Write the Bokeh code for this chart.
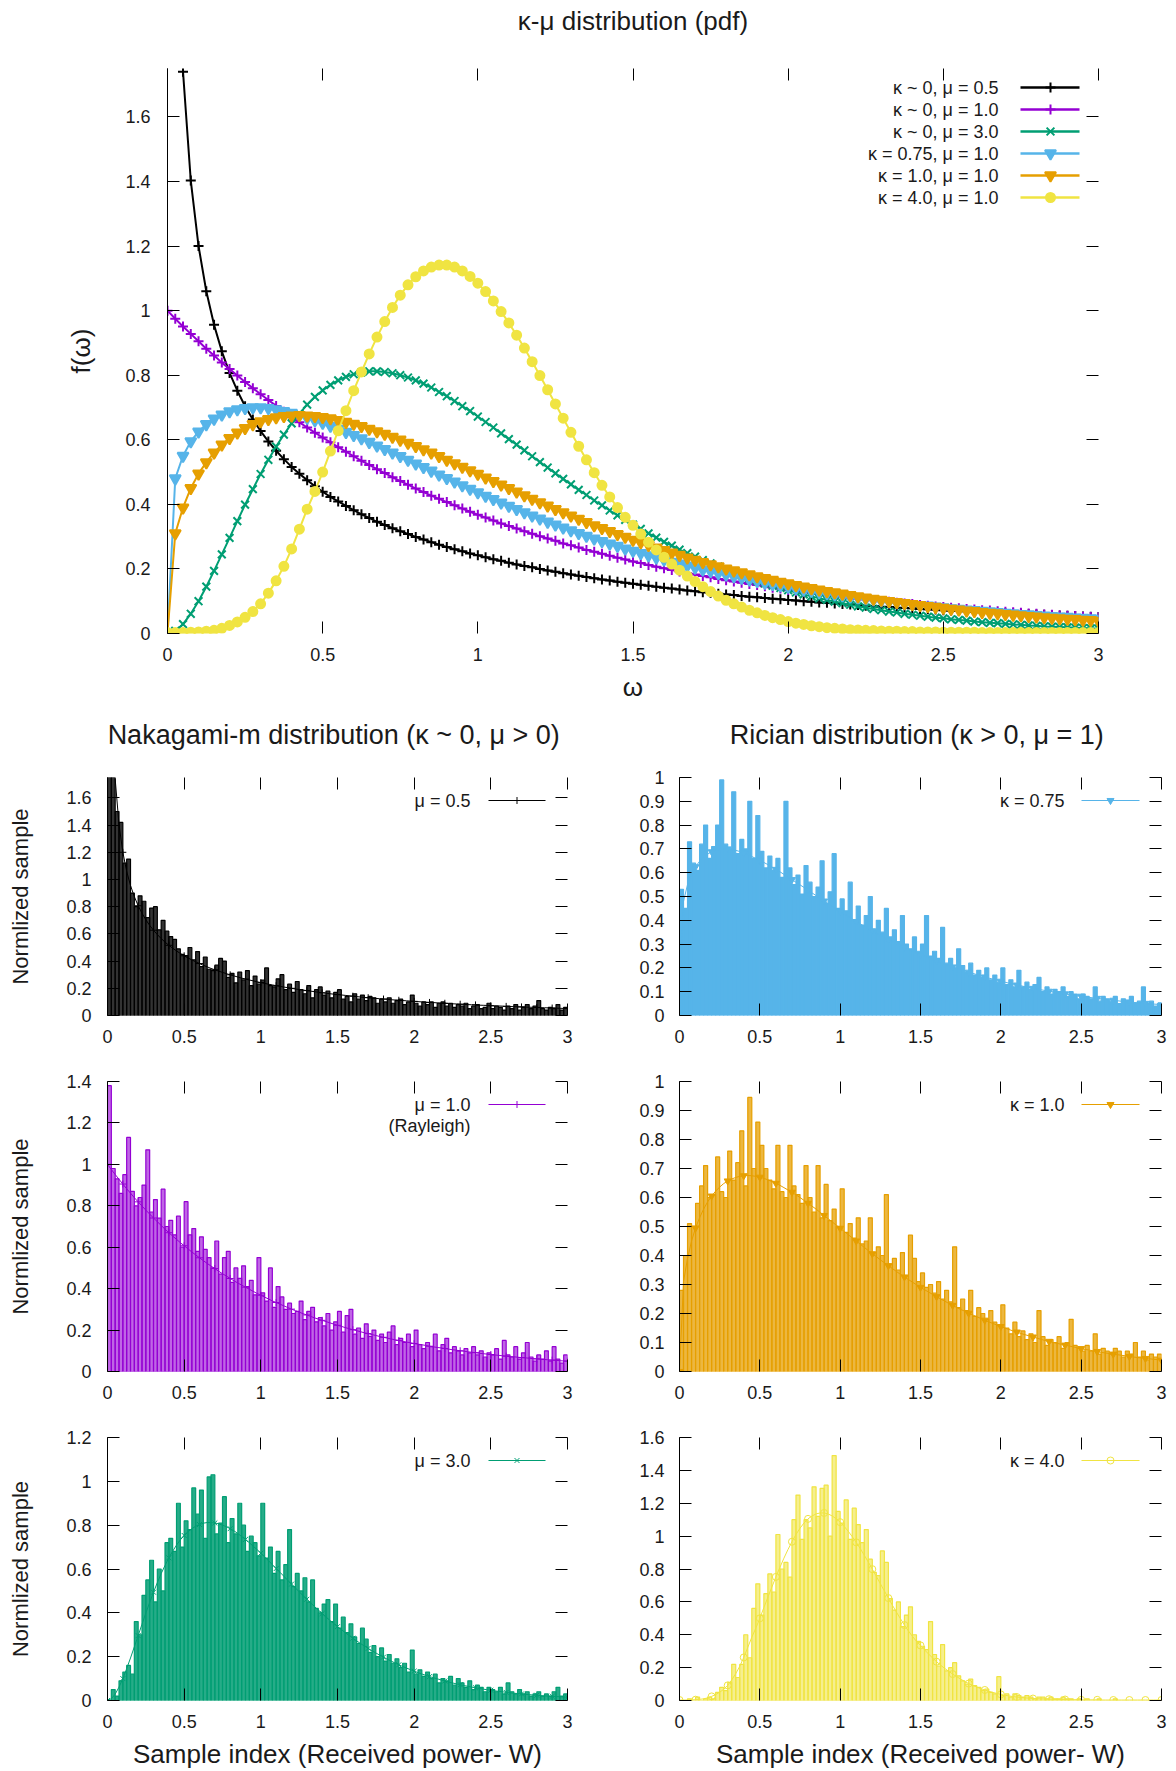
import numpy as np
from bokeh.plotting import figure
from bokeh.models import (Range1d, LinearAxis, FixedTicker, Label,
                          NumeralTickFormatter, CustomJSTickFormatter)
from bokeh.layouts import column, row
from bokeh.embed import file_html
from bokeh.resources import INLINE

FONT = "Liberation Sans"
C_BLACK, C_PURPLE, C_GREEN = "#000000", "#9400d3", "#009e73"
C_CYAN, C_ORANGE, C_YELLOW = "#56b4e9", "#e69f00", "#f0e442"

# ---------------- data ----------------
omega = [round(0.025 * i, 3) for i in range(121)]          # sample grid 0..3
bins = [round(0.0125 + 0.025 * i, 4) for i in range(120)]  # histogram bin centres

pdf_k0_m05 = [None, None,
    1.740, 1.403, 1.200, 1.060, 0.956, 0.874, 0.807, 0.752, 0.704, 0.663,
    0.627, 0.595, 0.566, 0.540, 0.516, 0.495, 0.475, 0.456, 0.439, 0.423,
    0.409, 0.395, 0.382, 0.369, 0.358, 0.346, 0.336, 0.326, 0.317, 0.308,
    0.299, 0.291, 0.283, 0.275, 0.268, 0.261, 0.255, 0.248, 0.242, 0.236,
    0.230, 0.225, 0.219, 0.214, 0.209, 0.205, 0.200, 0.195, 0.191, 0.187,
    0.183, 0.179, 0.175, 0.171, 0.167, 0.164, 0.160, 0.157, 0.154, 0.151,
    0.148, 0.145, 0.142, 0.139, 0.136, 0.133, 0.131, 0.128, 0.126, 0.123,
    0.121, 0.119, 0.116, 0.114, 0.112, 0.110, 0.108, 0.106, 0.104, 0.102,
    0.100, 0.098, 0.096, 0.095, 0.093, 0.091, 0.090, 0.088, 0.086, 0.085,
    0.083, 0.082, 0.080, 0.079, 0.078, 0.076, 0.075, 0.074, 0.072, 0.071,
    0.070, 0.069, 0.067, 0.066, 0.065, 0.064, 0.063, 0.062, 0.061, 0.060,
    0.059, 0.058, 0.057, 0.056, 0.055, 0.054, 0.053, 0.052, 0.051]

pdf_k0_m10 = [
    1.000, 0.975, 0.951, 0.928, 0.905, 0.882, 0.861, 0.839, 0.819, 0.799,
    0.779, 0.760, 0.741, 0.723, 0.705, 0.687, 0.670, 0.654, 0.638, 0.622,
    0.607, 0.592, 0.577, 0.563, 0.549, 0.535, 0.522, 0.509, 0.497, 0.484,
    0.472, 0.461, 0.449, 0.438, 0.427, 0.417, 0.407, 0.397, 0.387, 0.377,
    0.368, 0.359, 0.350, 0.341, 0.333, 0.325, 0.317, 0.309, 0.301, 0.294,
    0.287, 0.279, 0.273, 0.266, 0.259, 0.253, 0.247, 0.241, 0.235, 0.229,
    0.223, 0.218, 0.212, 0.207, 0.202, 0.197, 0.192, 0.187, 0.183, 0.178,
    0.174, 0.169, 0.165, 0.161, 0.157, 0.153, 0.150, 0.146, 0.142, 0.139,
    0.135, 0.132, 0.129, 0.126, 0.122, 0.119, 0.116, 0.114, 0.111, 0.108,
    0.105, 0.103, 0.100, 0.098, 0.095, 0.093, 0.091, 0.088, 0.086, 0.084,
    0.082, 0.080, 0.078, 0.076, 0.074, 0.072, 0.071, 0.069, 0.067, 0.066,
    0.064, 0.062, 0.061, 0.059, 0.058, 0.056, 0.055, 0.054, 0.052, 0.051,
    0.050]

pdf_k0_m30 = [
    0.000, 0.008, 0.029, 0.061, 0.100, 0.145, 0.194, 0.245, 0.296, 0.348,
    0.399, 0.447, 0.494, 0.538, 0.579, 0.616, 0.651, 0.681, 0.709, 0.733,
    0.753, 0.770, 0.784, 0.795, 0.803, 0.809, 0.812, 0.812, 0.810, 0.806,
    0.800, 0.793, 0.784, 0.774, 0.762, 0.748, 0.735, 0.720, 0.704, 0.689,
    0.672, 0.655, 0.638, 0.620, 0.602, 0.585, 0.567, 0.549, 0.531, 0.514,
    0.496, 0.479, 0.462, 0.445, 0.429, 0.412, 0.397, 0.381, 0.366, 0.352,
    0.337, 0.324, 0.310, 0.297, 0.284, 0.272, 0.260, 0.249, 0.238, 0.227,
    0.217, 0.207, 0.198, 0.188, 0.180, 0.171, 0.163, 0.155, 0.148, 0.141,
    0.134, 0.127, 0.121, 0.115, 0.109, 0.104, 0.099, 0.094, 0.089, 0.084,
    0.080, 0.076, 0.072, 0.068, 0.065, 0.061, 0.058, 0.055, 0.052, 0.049,
    0.047, 0.044, 0.042, 0.040, 0.037, 0.035, 0.033, 0.032, 0.030, 0.028,
    0.027, 0.025, 0.024, 0.022, 0.021, 0.020, 0.019, 0.018, 0.017, 0.016,
    0.015]

pdf_k075_m10 = [
    0.000, 0.480, 0.550, 0.595, 0.625, 0.648, 0.665, 0.678, 0.688, 0.694,
    0.698, 0.700, 0.700, 0.698, 0.694, 0.689, 0.683, 0.676, 0.668, 0.660,
    0.652, 0.643, 0.634, 0.624, 0.614, 0.604, 0.593, 0.582, 0.571, 0.560,
    0.549, 0.538, 0.526, 0.515, 0.504, 0.492, 0.481, 0.470, 0.459, 0.448,
    0.437, 0.426, 0.416, 0.405, 0.395, 0.385, 0.375, 0.365, 0.356, 0.346,
    0.337, 0.328, 0.319, 0.311, 0.302, 0.294, 0.286, 0.278, 0.271, 0.263,
    0.256, 0.249, 0.242, 0.235, 0.229, 0.222, 0.216, 0.210, 0.204, 0.198,
    0.193, 0.187, 0.182, 0.177, 0.172, 0.167, 0.162, 0.157, 0.153, 0.149,
    0.144, 0.140, 0.136, 0.132, 0.128, 0.125, 0.121, 0.118, 0.114, 0.111,
    0.108, 0.105, 0.102, 0.099, 0.096, 0.093, 0.091, 0.088, 0.086, 0.083,
    0.081, 0.078, 0.076, 0.074, 0.072, 0.070, 0.068, 0.066, 0.064, 0.062,
    0.060, 0.059, 0.057, 0.055, 0.054, 0.052, 0.051, 0.049, 0.048, 0.047,
    0.045]

pdf_k10_m10 = [
    0.000, 0.310, 0.390, 0.450, 0.495, 0.530, 0.560, 0.585, 0.605, 0.622,
    0.636, 0.648, 0.657, 0.664, 0.669, 0.673, 0.675, 0.676, 0.675, 0.673,
    0.670, 0.666, 0.661, 0.655, 0.649, 0.642, 0.634, 0.626, 0.618, 0.609,
    0.600, 0.590, 0.580, 0.570, 0.560, 0.549, 0.538, 0.527, 0.516, 0.505,
    0.494, 0.483, 0.472, 0.461, 0.450, 0.439, 0.428, 0.417, 0.406, 0.396,
    0.385, 0.375, 0.365, 0.355, 0.345, 0.335, 0.326, 0.317, 0.308, 0.299,
    0.290, 0.282, 0.274, 0.266, 0.258, 0.250, 0.243, 0.235, 0.228, 0.221,
    0.214, 0.208, 0.201, 0.195, 0.189, 0.183, 0.177, 0.171, 0.166, 0.160,
    0.155, 0.150, 0.145, 0.140, 0.136, 0.131, 0.127, 0.123, 0.119, 0.115,
    0.111, 0.107, 0.104, 0.100, 0.097, 0.094, 0.091, 0.088, 0.085, 0.082,
    0.079, 0.076, 0.074, 0.071, 0.069, 0.066, 0.064, 0.062, 0.060, 0.058,
    0.056, 0.054, 0.052, 0.050, 0.048, 0.047, 0.045, 0.044, 0.042, 0.041,
    0.039]

pdf_k40_m10 = [
    0.003, 0.003, 0.003, 0.004, 0.005, 0.007, 0.010, 0.016, 0.025, 0.036,
    0.050, 0.068, 0.092, 0.125, 0.163, 0.208, 0.262, 0.323, 0.385, 0.440,
    0.500, 0.565, 0.628, 0.690, 0.752, 0.810, 0.866, 0.918, 0.966, 1.010,
    1.048, 1.080, 1.105, 1.123, 1.135, 1.141, 1.141, 1.135, 1.123, 1.106,
    1.085, 1.059, 1.030, 0.997, 0.962, 0.924, 0.884, 0.842, 0.799, 0.755,
    0.711, 0.667, 0.623, 0.580, 0.538, 0.498, 0.459, 0.423, 0.390, 0.360,
    0.335, 0.308, 0.283, 0.259, 0.236, 0.215, 0.196, 0.178, 0.161, 0.145,
    0.130, 0.116, 0.103, 0.092, 0.082, 0.072, 0.064, 0.056, 0.049, 0.043,
    0.037, 0.032, 0.028, 0.024, 0.021, 0.018, 0.016, 0.014, 0.012, 0.011,
    0.010, 0.009, 0.008, 0.007, 0.007, 0.006, 0.006, 0.005, 0.005, 0.005,
    0.004, 0.004, 0.004, 0.004, 0.004, 0.003, 0.003, 0.003, 0.003, 0.003,
    0.003, 0.003, 0.003, 0.003, 0.003, 0.003, 0.003, 0.003, 0.003, 0.003,
    0.003]

hist_m05 = [
    3.50, 2.10, 1.50, 1.42, 1.12, 1.15, 0.90, 0.80, 0.88, 0.84,
    0.72, 0.79, 0.80, 0.63, 0.70, 0.62, 0.58, 0.56, 0.49, 0.45,
    0.44, 0.50, 0.41, 0.47, 0.36, 0.43, 0.34, 0.33, 0.37, 0.42,
    0.40, 0.28, 0.31, 0.24, 0.32, 0.26, 0.33, 0.22, 0.29, 0.23,
    0.26, 0.35, 0.22, 0.21, 0.27, 0.30, 0.19, 0.23, 0.17, 0.25,
    0.19, 0.16, 0.22, 0.13, 0.19, 0.21, 0.15, 0.18, 0.13, 0.17,
    0.19, 0.12, 0.14, 0.10, 0.16, 0.12, 0.15, 0.11, 0.14, 0.13,
    0.09, 0.12, 0.10, 0.13, 0.09, 0.11, 0.12, 0.08, 0.10, 0.15,
    0.09, 0.07, 0.10, 0.08, 0.10, 0.06, 0.09, 0.10, 0.07, 0.09,
    0.06, 0.08, 0.07, 0.09, 0.05, 0.07, 0.08, 0.05, 0.06, 0.09,
    0.05, 0.07, 0.06, 0.04, 0.07, 0.05, 0.08, 0.04, 0.06, 0.08,
    0.05, 0.07, 0.11, 0.05, 0.04, 0.06, 0.05, 0.08, 0.04, 0.06]

hist_m10 = [
    1.38, 0.98, 0.93, 0.86, 0.95, 1.13, 0.87, 0.80, 0.84, 0.90,
    1.07, 0.77, 0.83, 0.74, 0.88, 0.70, 0.73, 0.66, 0.75, 0.60,
    0.82, 0.66, 0.69, 0.58, 0.65, 0.59, 0.55, 0.50, 0.63, 0.47,
    0.55, 0.58, 0.43, 0.50, 0.45, 0.51, 0.41, 0.44, 0.37, 0.55,
    0.38, 0.34, 0.50, 0.31, 0.41, 0.36, 0.30, 0.33, 0.28, 0.29,
    0.34, 0.25, 0.29, 0.31, 0.24, 0.26, 0.22, 0.28, 0.20, 0.24,
    0.29, 0.19, 0.27, 0.30, 0.18, 0.21, 0.16, 0.23, 0.17, 0.20,
    0.15, 0.18, 0.14, 0.19, 0.22, 0.13, 0.16, 0.14, 0.18, 0.12,
    0.20, 0.13, 0.11, 0.14, 0.12, 0.18, 0.10, 0.13, 0.16, 0.09,
    0.12, 0.10, 0.08, 0.11, 0.09, 0.12, 0.08, 0.10, 0.07, 0.09,
    0.08, 0.11, 0.06, 0.15, 0.08, 0.07, 0.12, 0.06, 0.09, 0.14,
    0.07, 0.05, 0.08, 0.06, 0.10, 0.05, 0.12, 0.06, 0.04, 0.08]

hist_m30 = [
    0.00, 0.05, 0.02, 0.09, 0.13, 0.16, 0.12, 0.36, 0.30, 0.48,
    0.55, 0.64, 0.45, 0.60, 0.50, 0.72, 0.74, 0.68, 0.90, 0.70,
    0.82, 0.78, 0.97, 0.85, 0.96, 0.74, 1.02, 1.03, 0.76, 0.81,
    0.93, 0.72, 0.83, 0.76, 0.90, 0.80, 0.68, 0.75, 0.72, 0.66,
    0.90, 0.65, 0.70, 0.58, 0.68, 0.55, 0.62, 0.78, 0.52, 0.58,
    0.50, 0.56, 0.45, 0.55, 0.42, 0.40, 0.44, 0.46, 0.36, 0.44,
    0.33, 0.38, 0.31, 0.35, 0.29, 0.26, 0.33, 0.28, 0.22, 0.25,
    0.20, 0.24, 0.18, 0.21, 0.17, 0.19, 0.15, 0.17, 0.13, 0.23,
    0.12, 0.14, 0.11, 0.13, 0.10, 0.12, 0.08, 0.10, 0.09, 0.11,
    0.07, 0.10, 0.08, 0.06, 0.09, 0.05, 0.07, 0.06, 0.04, 0.06,
    0.05, 0.04, 0.06, 0.03, 0.08, 0.04, 0.03, 0.05, 0.03, 0.04,
    0.02, 0.03, 0.04, 0.02, 0.03, 0.02, 0.04, 0.06, 0.02, 0.03]

hist_k075 = [
    0.53, 0.45, 0.73, 0.64, 0.61, 0.72, 0.80, 0.66, 0.71, 0.80,
    0.99, 0.72, 0.70, 0.94, 0.68, 0.74, 0.70, 0.90, 0.66, 0.84,
    0.69, 0.62, 0.67, 0.61, 0.66, 0.58, 0.90, 0.62, 0.55, 0.59,
    0.51, 0.63, 0.56, 0.50, 0.54, 0.65, 0.47, 0.52, 0.68, 0.45,
    0.49, 0.44, 0.56, 0.40, 0.46, 0.38, 0.42, 0.50, 0.36, 0.40,
    0.35, 0.45, 0.33, 0.36, 0.31, 0.42, 0.30, 0.28, 0.33, 0.27,
    0.30, 0.42, 0.25, 0.27, 0.24, 0.37, 0.22, 0.24, 0.20, 0.28,
    0.21, 0.18, 0.22, 0.17, 0.19, 0.16, 0.20, 0.15, 0.17, 0.14,
    0.20, 0.13, 0.15, 0.12, 0.19, 0.12, 0.14, 0.11, 0.13, 0.16,
    0.10, 0.12, 0.09, 0.11, 0.10, 0.12, 0.08, 0.10, 0.09, 0.07,
    0.09, 0.08, 0.07, 0.12, 0.06, 0.08, 0.07, 0.06, 0.08, 0.05,
    0.07, 0.06, 0.08, 0.05, 0.06, 0.12, 0.05, 0.06, 0.04, 0.05]

hist_k10 = [
    0.28, 0.40, 0.51, 0.50, 0.58, 0.64, 0.71, 0.60, 0.61, 0.74,
    0.62, 0.60, 0.76, 0.66, 0.72, 0.83, 0.64, 0.945, 0.70, 0.86,
    0.78, 0.70, 0.66, 0.63, 0.78, 0.62, 0.60, 0.78, 0.64, 0.61,
    0.58, 0.71, 0.60, 0.55, 0.71, 0.53, 0.645, 0.52, 0.56, 0.50,
    0.63, 0.48, 0.51, 0.46, 0.53, 0.44, 0.45, 0.53, 0.41, 0.43,
    0.40, 0.61, 0.37, 0.39, 0.35, 0.41, 0.33, 0.47, 0.39, 0.31,
    0.34, 0.29, 0.30, 0.27, 0.31, 0.25, 0.28, 0.24, 0.43, 0.22,
    0.25, 0.21, 0.28, 0.19, 0.22, 0.20, 0.18, 0.21, 0.17, 0.16,
    0.23, 0.15, 0.13, 0.17, 0.12, 0.14, 0.11, 0.13, 0.10, 0.21,
    0.12, 0.09, 0.11, 0.10, 0.12, 0.08, 0.10, 0.18, 0.09, 0.08,
    0.07, 0.09, 0.07, 0.13, 0.06, 0.08, 0.07, 0.06, 0.08, 0.07,
    0.05, 0.07, 0.06, 0.10, 0.05, 0.07, 0.04, 0.06, 0.05, 0.06]

hist_k40 = [
    0.00, 0.00, 0.01, 0.00, 0.02, 0.00, 0.01, 0.02, 0.01, 0.05,
    0.08, 0.06, 0.11, 0.22, 0.14, 0.22, 0.40, 0.26, 0.56, 0.71,
    0.52, 0.65, 0.77, 0.66, 1.01, 0.80, 0.84, 0.75, 1.10, 1.25,
    0.98, 1.10, 1.05, 1.30, 1.12, 1.29, 1.31, 1.00, 1.49, 1.15,
    1.08, 1.22, 0.98, 1.17, 1.07, 0.96, 1.04, 0.86, 0.78, 0.76,
    0.91, 0.84, 0.62, 0.55, 0.60, 0.45, 0.52, 0.57, 0.40, 0.36,
    0.33, 0.31, 0.48, 0.28, 0.21, 0.34, 0.18, 0.20, 0.23, 0.15,
    0.12, 0.10, 0.13, 0.09, 0.08, 0.06, 0.07, 0.05, 0.04, 0.145,
    0.03, 0.04, 0.02, 0.04, 0.03, 0.02, 0.03, 0.02, 0.01, 0.02,
    0.02, 0.01, 0.02, 0.01, 0.01, 0.02, 0.01, 0.01, 0.00, 0.01,
    0.00, 0.01, 0.00, 0.00, 0.01, 0.00, 0.00, 0.00, 0.01, 0.00,
    0.00, 0.00, 0.00, 0.00, 0.00, 0.00, 0.00, 0.00, 0.00, 0.00]

top_legend = ["κ ~ 0,  μ = 0.5", "κ ~ 0,  μ = 1.0", "κ ~ 0,  μ = 3.0",
              "κ = 0.75,  μ = 1.0", "κ = 1.0,  μ = 1.0", "κ = 4.0,  μ = 1.0"]
x_ticks = [0, 0.5, 1, 1.5, 2, 2.5, 3]


def arr(v):
    return np.array([np.nan if a is None else a for a in v], dtype=float)


OM = np.array(omega)
TXT = "#1a1a1a"
TICK_FS = "18px"


def axes(p, yticks, lab_std_x, lab_std_y, xlabel=None, xl_size="26px", xl_std=8,
         ylabel=None, yl_size="22px", yl_std=30, title=None, title_size="27px", title_std=28):
    fmt = NumeralTickFormatter(format="0.[0]")
    common = dict(major_tick_in=12, major_tick_out=0, minor_tick_in=0, minor_tick_out=0,
                  major_tick_line_color="black", major_tick_line_width=1,
                  major_label_text_font=FONT, major_label_text_color=TXT)
    bx = LinearAxis(ticker=FixedTicker(ticks=x_ticks), formatter=fmt, axis_line_color=None,
                    major_label_standoff=lab_std_x, major_label_text_font_size=TICK_FS, **common)
    if xlabel:
        bx.axis_label = xlabel
        bx.axis_label_text_font = FONT
        bx.axis_label_text_font_size = xl_size
        bx.axis_label_text_font_style = "normal"
        bx.axis_label_text_color = TXT
        bx.axis_label_standoff = xl_std
    ly = LinearAxis(ticker=FixedTicker(ticks=yticks), formatter=fmt, axis_line_color="black",
                    axis_line_width=1, major_label_standoff=lab_std_y,
                    major_label_text_font_size=TICK_FS, **common)
    if ylabel:
        ly.axis_label = ylabel
        ly.axis_label_text_font = FONT
        ly.axis_label_text_font_size = yl_size
        ly.axis_label_text_font_style = "normal"
        ly.axis_label_text_color = TXT
        ly.axis_label_standoff = yl_std
    tx_ = LinearAxis(ticker=FixedTicker(ticks=x_ticks),
                     formatter=CustomJSTickFormatter(code="return ''"), axis_line_color=None,
                     major_label_standoff=0, major_label_text_font_size="0px", **common)
    if title:
        tx_.axis_label = title
        tx_.axis_label_text_font = FONT
        tx_.axis_label_text_font_size = title_size
        tx_.axis_label_text_font_style = "normal"
        tx_.axis_label_text_color = TXT
        tx_.axis_label_standoff = title_std
    ry = LinearAxis(ticker=FixedTicker(ticks=yticks),
                    formatter=CustomJSTickFormatter(code="return ''"), axis_line_color=None,
                    major_label_standoff=0, major_label_text_font_size="0px", **common)
    p.add_layout(bx, "below")
    p.add_layout(ly, "left")
    p.add_layout(tx_, "above")
    p.add_layout(ry, "right")


def base_fig(fw, fh, bl, br, bt, bb, ymax):
    p = figure(frame_width=fw, frame_height=fh, min_border_left=bl, min_border_right=br,
               min_border_top=bt, min_border_bottom=bb, x_range=Range1d(0, 3),
               y_range=Range1d(0, ymax), x_axis_location=None, y_axis_location=None,
               output_backend="svg", toolbar_location=None, tools="", title=None)
    p.grid.visible = False
    p.outline_line_color = None
    p.background_fill_color = "white"
    p.border_fill_color = "white"
    return p


# ---------------- top chart ----------------
T_L, T_FW, T_R, T_T, T_FH, T_B, T_YMAX = 167, 931, 78, 68, 565, 72, 1.75
top = base_fig(T_FW, T_FH, T_L, T_R, T_T, T_B, T_YMAX)
axes(top, [0, 0.2, 0.4, 0.6, 0.8, 1, 1.2, 1.4, 1.6], 14, 17,
     xlabel="ω", xl_size="26px", xl_std=8, ylabel="f(ω)", yl_size="26px", yl_std=26,
     title="κ-μ distribution (pdf)", title_size="26px", title_std=33)

series = [
    (pdf_k0_m05, C_BLACK, "cross", 10, C_BLACK),
    (pdf_k0_m10, C_PURPLE, "cross", 10, C_PURPLE),
    (pdf_k0_m30, C_GREEN, "x", 11, C_GREEN),
    (pdf_k075_m10, C_CYAN, "inverted_triangle", 11, C_CYAN),
    (pdf_k10_m10, C_ORANGE, "inverted_triangle", 11, C_ORANGE),
    (pdf_k40_m10, C_YELLOW, "circle", 9, C_YELLOW),
]


def tx(px, left, fw):
    return (px - left) / fw * 3.0


def ty(py, top_px, fh, ymax):
    return (top_px + fh - py) / fh * ymax


for i, (vals, col, mk, ms, fc) in enumerate(series):
    y = arr(vals)
    top.line(OM, y, line_color=col, line_width=2)
    top.scatter(OM, y, marker=mk, size=ms, line_color=col, fill_color=fc, line_width=2)
    ly_ = ty(87 + 22 * i, T_T, T_FH, T_YMAX)
    top.add_layout(Label(x=tx(1003, T_L, T_FW), y=ly_, text=top_legend[i], text_align="right",
                         text_baseline="middle", text_font=FONT, text_font_size="18px",
                         text_color=TXT))
    top.line([tx(1020, T_L, T_FW), tx(1079, T_L, T_FW)], [ly_, ly_], line_color=col, line_width=2.5)
    top.scatter([tx(1050, T_L, T_FW)], [ly_], marker=mk, size=ms, line_color=col,
                fill_color=fc, line_width=2)

# ---------------- bottom panels ----------------
ROWS = [dict(t=72, fh=238, b=35, top_px=777), dict(t=31, fh=290, b=39, top_px=1081),
        dict(t=27, fh=263, b=71, top_px=1437)]
COLS = [dict(l=107, fw=460, r=23), dict(l=89, fw=482, r=15)]
COL_LEFT_PX = [107, 679]


def panel(ci, ri, ymax, yticks, hist, pdf, color, fill, falpha, marker, mfill, legend,
          legend_px, title=None, xlabel=None, ylabel=None):
    c, g = COLS[ci], ROWS[ri]
    p = base_fig(c["fw"], g["fh"], c["l"], c["r"], g["t"], g["b"], ymax)
    axes(p, yticks, 14, 15 if ci else 16, xlabel=xlabel, ylabel=ylabel,
         title=title, title_size="27px", title_std=28)
    p.vbar(x=bins, top=hist, width=0.025, fill_color=fill, fill_alpha=falpha,
           line_color=color, line_width=1.2)
    y = arr(pdf)
    p.line(OM, y, line_color=color, line_width=1)
    p.scatter(OM[::4], y[::4], marker=marker, size=7, line_color=color, fill_color=mfill,
              line_width=1)
    left = COL_LEFT_PX[ci]
    txt_r, l0, l1 = legend_px
    for j, t in enumerate(legend):
        yy = ty(g["top_px"] + (23 + 21 * j), g["top_px"], g["fh"], ymax)
        p.add_layout(Label(x=tx(txt_r, left, c["fw"]), y=yy, text=t, text_align="right",
                           text_baseline="middle", text_font=FONT, text_font_size="18px",
                           text_color=TXT))
    yy = ty(g["top_px"] + 23, g["top_px"], g["fh"], ymax)
    p.line([tx(l0, left, c["fw"]), tx(l1, left, c["fw"])], [yy, yy], line_color=color,
           line_width=1.2)
    p.scatter([tx((l0 + l1) / 2, left, c["fw"])], [yy], marker=marker, size=7,
              line_color=color, fill_color=mfill, line_width=1)
    return p


LEFT_LEG = (470, 488, 545)
RIGHT_LEG = (1064, 1081, 1139)
XL = "Sample index (Received power- W)"
YL = "Normlized sample"

p1 = panel(0, 0, 1.75, [0, 0.2, 0.4, 0.6, 0.8, 1, 1.2, 1.4, 1.6], hist_m05, pdf_k0_m05,
           C_BLACK, "#000000", 0.8, "cross", C_BLACK, ["μ = 0.5"], LEFT_LEG,
           title="Nakagami-m distribution (κ ~ 0,  μ > 0)", ylabel=YL)
p2 = panel(1, 0, 1.0, [0, 0.1, 0.2, 0.3, 0.4, 0.5, 0.6, 0.7, 0.8, 0.9, 1], hist_k075,
           pdf_k075_m10, C_CYAN, C_CYAN, 1.0, "inverted_triangle", C_CYAN, ["κ = 0.75"],
           RIGHT_LEG, title="Rician distribution (κ > 0,  μ = 1)")
p3 = panel(0, 1, 1.4, [0, 0.2, 0.4, 0.6, 0.8, 1, 1.2, 1.4], hist_m10, pdf_k0_m10,
           C_PURPLE, C_PURPLE, 0.6, "cross", C_PURPLE, ["μ = 1.0", "(Rayleigh)"], LEFT_LEG,
           ylabel=YL)
p4 = panel(1, 1, 1.0, [0, 0.1, 0.2, 0.3, 0.4, 0.5, 0.6, 0.7, 0.8, 0.9, 1], hist_k10,
           pdf_k10_m10, C_ORANGE, C_ORANGE, 0.75, "inverted_triangle", C_ORANGE, ["κ = 1.0"],
           RIGHT_LEG)
p5 = panel(0, 2, 1.2, [0, 0.2, 0.4, 0.6, 0.8, 1, 1.2], hist_m30, pdf_k0_m30,
           C_GREEN, C_GREEN, 0.85, "x", C_GREEN, ["μ = 3.0"], LEFT_LEG, xlabel=XL, ylabel=YL)
p6 = panel(1, 2, 1.6, [0, 0.2, 0.4, 0.6, 0.8, 1, 1.2, 1.4, 1.6], hist_k40, pdf_k40_m10,
           C_YELLOW, C_YELLOW, 0.6, "circle", None, ["κ = 4.0"], RIGHT_LEG, xlabel=XL)

layout = column(top, row(p1, p2, spacing=0), row(p3, p4, spacing=0), row(p5, p6, spacing=0),
                spacing=0)

with open("out.html", "w") as f:
    f.write(file_html(layout, INLINE, title="kappa-mu distribution"))
